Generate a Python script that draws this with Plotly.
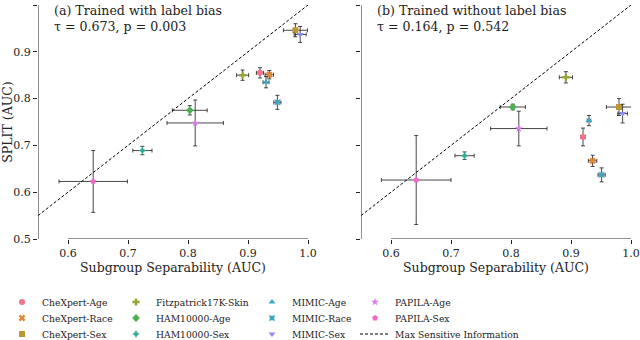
import plotly.graph_objects as go

# series labels, colours, markers (same order as the legend columns)
names = ["CheXpert-Age", "CheXpert-Race", "CheXpert-Sex",
         "Fitzpatrick17K-Skin", "HAM10000-Age", "HAM10000-Sex",
         "MIMIC-Age", "MIMIC-Race", "MIMIC-Sex",
         "PAPILA-Age", "PAPILA-Sex"]
colors = ["#f77189", "#e08a35", "#bb9832", "#97a431", "#4cb051", "#36ad9c",
          "#38a9c5", "#3ba8c0", "#8c8cf2", "#d97af0", "#f564c8"]
symbols = ["circle", "x", "square", "cross", "diamond", "star-diamond",
           "triangle-up", "star-square", "triangle-down", "star", "pentagon"]

# (a) trained with label bias
sep_a = [0.920, 0.9355, 0.979, 0.891, 0.803, 0.724, 0.930, 0.949, 0.987, 0.812, 0.642]
sep_a_err = [0.006, 0.007, 0.020, 0.010, 0.029, 0.016, 0.005, 0.006, 0.010, 0.047, 0.057]
split_a = [0.855, 0.851, 0.946, 0.850, 0.775, 0.689, 0.835, 0.792, 0.937, 0.748, 0.623]
split_a_err = [0.011, 0.009, 0.014, 0.011, 0.010, 0.009, 0.012, 0.015, 0.017, 0.049, 0.066]

# (b) trained without label bias
sep_b = [0.920, 0.936, 0.980, 0.8915, 0.803, 0.7226, 0.930, 0.951, 0.986, 0.813, 0.642]
sep_b_err = [0.004, 0.007, 0.021, 0.011, 0.021, 0.016, 0.003, 0.006, 0.008, 0.047, 0.058]
split_b = [0.718, 0.667, 0.782, 0.8455, 0.782, 0.678, 0.753, 0.637, 0.768, 0.736, 0.626]
split_b_err = [0.019, 0.012, 0.018, 0.012, 0.006, 0.008, 0.011, 0.015, 0.020, 0.037, 0.095]

diag = [0.55, 1.0]
x_ticks = [0.6, 0.7, 0.8, 0.9, 1.0]
y_ticks = [0.5, 0.6, 0.7, 0.8, 0.9, 1.0]
titles = ["(a) Trained with label bias<br>τ = 0.673, p = 0.003",
          "(b) Trained without label bias<br>τ = 0.164, p = 0.542"]

FONT = "DejaVu Serif"
INK = "#222222"
ERR = "rgba(40,40,40,0.85)"

fig = go.Figure()
panels = [(sep_a, sep_a_err, split_a, split_a_err, "x", "y"),
          (sep_b, sep_b_err, split_b, split_b_err, "x2", "y2")]
for p, (sx, sxe, sy, sye, xa, ya) in enumerate(panels):
    for i, n in enumerate(names):
        fig.add_trace(go.Scatter(
            x=[sx[i]], y=[sy[i]], mode="markers", name=n,
            xaxis=xa, yaxis=ya, cliponaxis=False,
            marker=dict(color=colors[i], symbol=symbols[i], size=6,
                        line=dict(width=0)),
            error_x=dict(type="data", array=[sxe[i]], color=ERR, thickness=1, width=2),
            error_y=dict(type="data", array=[sye[i]], color=ERR, thickness=1, width=2),
            showlegend=(p == 0),
            legend="legend" if i == 0 else f"legend{i + 1}",
        ))
    fig.add_trace(go.Scatter(
        x=diag, y=diag, mode="lines", name="Max Sensitive Information",
        xaxis=xa, yaxis=ya, line=dict(color="black", width=1, dash="3px,2px"),
        showlegend=(p == 0), legend="legend12"))

# legend laid out as 4 columns x 3 rows, one small legend per entry
col_x = [2, 116, 252, 355]
row_y = [302, 318, 334]
H_PLOT = 234
legends = {}
for k in range(12):
    c, r = divmod(k, 3)
    key = "legend" if k == 0 else f"legend{k + 1}"
    legends[key] = dict(
        x=(col_x[c] - 38) / 593, y=(239 - row_y[r]) / H_PLOT,
        xanchor="left", yanchor="middle", bgcolor="rgba(0,0,0,0)",
        font=dict(family=FONT, size=9.2, color=INK), itemwidth=30)

axis_common = dict(range=[0.55, 1.0], tickvals=x_ticks, ticktext=["0.6", "0.7", "0.8", "0.9", "1.0"],
                   ticks="outside", ticklen=4, tickwidth=1, tickcolor=INK, showline=False,
                   showgrid=False, zeroline=False,
                   tickfont=dict(family=FONT, size=11, color=INK),
                   title=dict(text="Subgroup Separability (AUC)", standoff=1,
                              font=dict(family=FONT, size=12.5, color=INK)))
yaxis_common = dict(range=[0.5, 1.0], tickvals=y_ticks, ticks="outside", ticklen=4,
                    tickwidth=1, tickcolor=INK, showline=False, showgrid=False, zeroline=False,
                    tickfont=dict(family=FONT, size=11, color=INK))

fig.update_layout(
    width=640, height=340,
    margin=dict(l=38, r=9, t=5, b=101, autoexpand=False),
    paper_bgcolor="white", plot_bgcolor="white",
    font=dict(family=FONT, color=INK),
    xaxis=dict(domain=[0, 270 / 593], anchor="y", **axis_common),
    xaxis2=dict(domain=[323 / 593, 1], anchor="y2", **axis_common),
    yaxis=dict(domain=[0, 1], anchor="x", tickformat=".1f",
               title=dict(text="SPLIT (AUC)", standoff=4,
                          font=dict(family=FONT, size=12.5, color=INK)),
               **yaxis_common),
    yaxis2=dict(domain=[0, 1], anchor="x2", showticklabels=False, **yaxis_common),
    **legends,
)

# trimmed spines like the original
for xa, ya in [("x", "y"), ("x2", "y2")]:
    fig.add_shape(type="line", xref=xa, yref=ya, x0=0.6, x1=1.0, y0=0.5, y1=0.5,
                  line=dict(color=INK, width=1))
    fig.add_shape(type="line", xref=xa, yref=ya, x0=0.55, x1=0.55, y0=0.5, y1=1.0,
                  line=dict(color=INK, width=1))

for t, xd in zip(titles, ["x domain", "x2 domain"]):
    fig.add_annotation(text=t, xref=xd, yref="paper", x=0.05, y=1.015,
                       xanchor="left", yanchor="top", align="left", showarrow=False,
                       font=dict(family=FONT, size=12.6, color=INK))

fig.write_html("out.html", config={"displayModeBar": False},
               post_script="document.body.style.margin='0';")
